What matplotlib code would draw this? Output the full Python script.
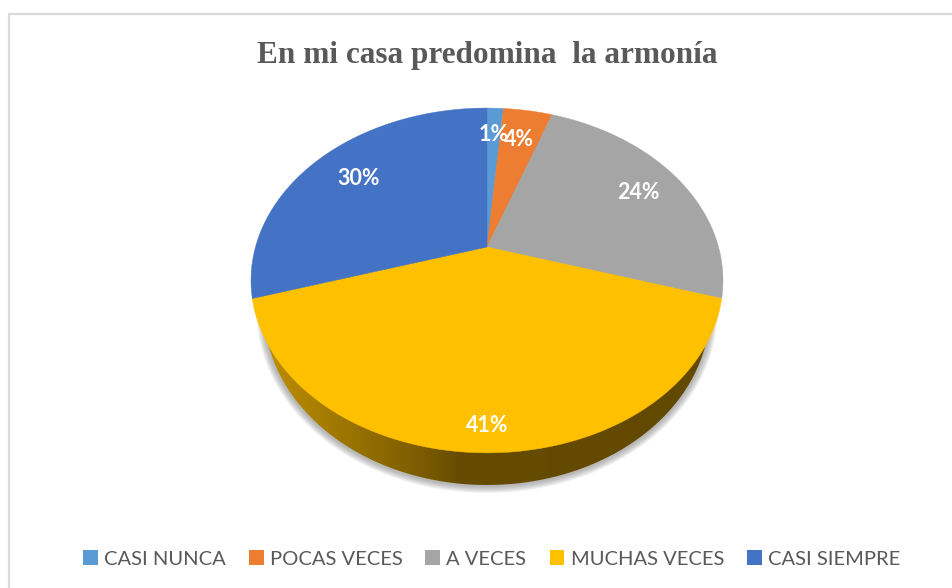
import numpy as np
import matplotlib
matplotlib.use("Agg")
import matplotlib.pyplot as plt
from matplotlib.patches import Polygon, Patch

categories = ["CASI NUNCA", "POCAS VECES", "A VECES", "MUCHAS VECES", "CASI SIEMPRE"]
counts = [1, 3, 18, 30, 22]
colors = ["#5B9BD5", "#ED7D31", "#A5A5A5", "#FFC000", "#4472C4"]
label_radius = [0.78, 0.76, 0.78, 0.89, 0.75]
title = "En mi casa predomina  la armonía"

# perspective of the pie top, in pixels
cx, cy = 487, 247
a, c, rx = -118.0, 0.194, 231.5


def project(X, Y):
    w = 1 + c * Y
    return cx + rx * X / w, (a * Y + cy) / w


def ellipse(ex, ey, erx, ery, n=300):
    t = np.linspace(0, 2 * np.pi, n)
    return np.column_stack([ex + erx * np.cos(t), ey + ery * np.sin(t)])


fig = plt.figure(figsize=(9.52, 5.88), dpi=100)
ax = fig.add_axes([0, 0, 1, 1])
ax.set_xlim(0, 952)
ax.set_ylim(588, 0)
ax.axis("off")

# chart frame, only top and left show up
ax.plot([9, 9, 952], [588, 14, 14], color="#D9D9D9", lw=1.6)

# soft shadow under the rim
for i in range(7):
    grow = 7 - i
    ax.add_patch(Polygon(ellipse(487, 311, 223.5 + grow, 175 + grow), closed=True,
                         fc="#707070", ec="none", alpha=0.09, zorder=1))

# side of the pie, only the yellow slice is seen from the front
rim = Polygon(ellipse(487, 310, 223, 175), closed=True, fc="none", ec="none", zorder=2)
ax.add_patch(rim)
grad = np.ones((1, 256, 3))
xs = np.linspace(255, 720, 256)
stops_x = [255, 300, 360, 420, 460, 720]
stops = np.array([[0xC0, 0x90, 0x00], [0xB0, 0x84, 0x00], [0x95, 0x70, 0x00],
                  [0x7C, 0x5C, 0x00], [0x66, 0x4C, 0x00], [0x62, 0x49, 0x00]]) / 255
for k in range(3):
    grad[0, :, k] = np.interp(xs, stops_x, stops[:, k])
img = ax.imshow(grad, extent=[255, 720, 490, 300], aspect="auto", zorder=2)
img.set_clip_path(rim)
ax.set_xlim(0, 952)
ax.set_ylim(588, 0)

# top face, slices clockwise from 12 o'clock
fracs = np.array(counts) / sum(counts)
edges = np.concatenate([[0], np.cumsum(fracs)]) * 2 * np.pi
for i in range(len(counts)):
    t = np.linspace(edges[i], edges[i + 1], 200)
    px, py = project(np.sin(t), np.cos(t))
    pts = np.column_stack([np.r_[cx, px], np.r_[cy, py]])
    ax.add_patch(Polygon(pts, closed=True, fc=colors[i], ec=colors[i], lw=0.3, zorder=3))

for i in range(len(counts)):
    mid = (edges[i] + edges[i + 1]) / 2
    lx, ly = project(label_radius[i] * np.sin(mid), label_radius[i] * np.cos(mid))
    ax.text(lx, ly, "%.0f%%" % (fracs[i] * 100), color="white", fontsize=15.5, fontweight="bold",
            family="Lato", ha="center", va="center", zorder=4)

ax.text(487.5, 55, title, color="#595959", fontsize=22.5, fontweight="bold",
        family="Liberation Serif", ha="center", va="center")

handles = [Patch(fc=col, ec="none") for col in colors]
leg = ax.legend(handles, categories, ncol=5, loc="center", bbox_to_anchor=(491.5 / 952, 1 - 559 / 588),
                frameon=False, prop={"family": "Lato", "size": 14.5}, labelcolor="#595959",
                handlelength=0.74, handleheight=0.74, handletextpad=0.3, columnspacing=1.15,
                borderpad=0, borderaxespad=0)

fig.savefig("out.png", dpi=100)
